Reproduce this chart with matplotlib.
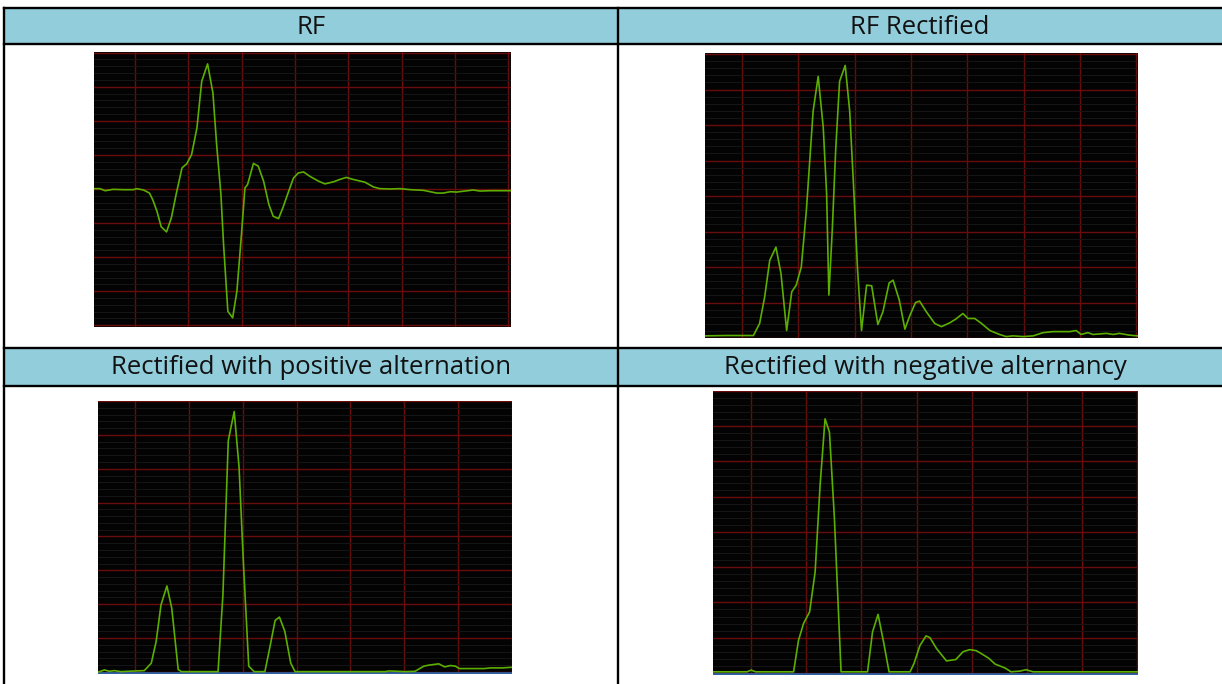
import matplotlib.pyplot as plt
from matplotlib.patches import Rectangle
from matplotlib.lines import Line2D

# ===== data (time / amplitude in screen divisions) =====
titles = ["RF", "RF Rectified",
          "Rectified with positive alternation", "Rectified with negative alternancy"]

rf_t = [-0.77, -0.66, -0.56, -0.41, -0.22, -0.03, 0.03, 0.16, 0.27, 0.33, 0.41, 0.49,
        0.59, 0.68, 0.77, 0.88, 0.97, 1.06, 1.16, 1.25, 1.36, 1.46, 1.53, 1.61, 1.66,
        1.74, 1.83, 1.91, 2.00, 2.06, 2.11, 2.22, 2.31, 2.41, 2.51, 2.59, 2.69, 2.77,
        2.88, 2.97, 3.06, 3.16, 3.28, 3.44, 3.56, 3.72, 3.84, 3.96, 4.09, 4.31, 4.47,
        4.59, 4.78, 4.97, 5.16, 5.41, 5.66, 5.78, 5.91, 6.03, 6.34, 6.47, 6.66, 7.04]
rf_v = [4.01, 4.01, 3.95, 3.99, 3.98, 3.98, 4.01, 3.97, 3.88, 3.69, 3.35, 2.89,
        2.74, 3.15, 3.84, 4.62, 4.74, 5.01, 5.79, 7.16, 7.67, 6.82, 5.30, 3.84, 2.37,
        0.41, 0.22, 1.00, 2.76, 4.03, 4.13, 4.75, 4.67, 4.23, 3.54, 3.20, 3.13, 3.44,
        3.93, 4.32, 4.47, 4.50, 4.37, 4.23, 4.15, 4.21, 4.28, 4.34, 4.28, 4.20, 4.06,
        4.01, 4.00, 4.01, 3.98, 3.96, 3.88, 3.88, 3.92, 3.91, 3.97, 3.94, 3.95, 3.95]

rect_t = [-0.66, -0.28, 0.20, 0.31, 0.40, 0.49, 0.60, 0.69, 0.79, 0.88, 0.96, 1.05,
          1.14, 1.26, 1.35, 1.44, 1.50, 1.54, 1.60, 1.66, 1.73, 1.83, 1.91, 1.98, 2.05,
          2.12, 2.21, 2.30, 2.41, 2.50, 2.61, 2.68, 2.79, 2.89, 2.98, 3.08, 3.15, 3.27,
          3.42, 3.54, 3.69, 3.80, 3.92, 4.01, 4.13, 4.25, 4.40, 4.57, 4.69, 4.81, 4.99,
          5.17, 5.34, 5.52, 5.82, 5.93, 6.02, 6.14, 6.23, 6.47, 6.59, 6.70, 6.88, 7.02]
rect_v = [0.06, 0.07, 0.07, 0.41, 1.16, 2.19, 2.56, 1.81, 0.21, 1.30, 1.49, 2.00,
          3.59, 6.39, 7.37, 5.93, 4.06, 1.21, 3.03, 5.27, 7.23, 7.68, 6.39, 4.24, 1.91,
          0.21, 1.49, 1.47, 0.38, 0.74, 1.55, 1.63, 1.07, 0.25, 0.64, 1.00, 1.04, 0.74,
          0.41, 0.32, 0.43, 0.54, 0.69, 0.55, 0.55, 0.41, 0.21, 0.10, 0.04, 0.06, 0.04,
          0.06, 0.15, 0.18, 0.18, 0.21, 0.10, 0.15, 0.10, 0.13, 0.10, 0.13, 0.08, 0.06]

pos_t = [-0.70, -0.57, -0.48, -0.39, -0.26, -0.14, 0.17, 0.30, 0.39, 0.48, 0.59, 0.68,
         0.80, 0.86, 1.54, 1.63, 1.73, 1.84, 1.93, 2.01, 2.11, 2.21, 2.41, 2.50, 2.60,
         2.68, 2.78, 2.89, 2.97, 4.65, 4.71, 5.02, 5.20, 5.36, 5.45, 5.64, 5.75, 5.86,
         5.95, 6.02, 6.48, 6.60, 6.82, 7.01]
pos_v = [-0.01, 0.06, 0.02, 0.04, 0.01, 0.02, 0.04, 0.26, 0.90, 1.98, 2.54, 1.88,
         0.07, 0.01, 0.01, 2.27, 6.83, 7.69, 6.05, 3.25, 0.17, 0.01, 0.01, 0.71, 1.52,
         1.62, 1.20, 0.26, 0.01, 0.01, 0.03, 0.01, 0.02, 0.17, 0.20, 0.24, 0.15, 0.19,
         0.17, 0.10, 0.10, 0.12, 0.12, 0.14]

neg_t = [-0.69, -0.07, 0.00, 0.08, 0.77, 0.86, 0.95, 1.06, 1.16, 1.25, 1.34, 1.42,
         1.51, 1.63, 2.11, 2.20, 2.30, 2.40, 2.50, 2.88, 2.95, 3.06, 3.17, 3.24, 3.36,
         3.54, 3.71, 3.84, 3.96, 4.08, 4.20, 4.31, 4.42, 4.60, 4.71, 4.87, 4.98, 5.11, 7.01]
neg_v = [0.03, 0.03, 0.08, 0.03, 0.03, 0.93, 1.40, 1.73, 2.86, 5.32, 7.21, 6.83,
         4.38, 0.03, 0.03, 1.16, 1.66, 0.88, 0.03, 0.03, 0.26, 0.78, 1.05, 1.00, 0.69,
         0.34, 0.38, 0.60, 0.66, 0.63, 0.52, 0.41, 0.25, 0.14, 0.03, 0.05, 0.09, 0.03, 0.03]

W, H = 1222, 684
fig = plt.figure(figsize=(W / 100, H / 100), dpi=100)


def fx(px):
    return px / W


def fy(py):
    return 1 - py / H


# ===== table frame =====
header_fill = "#92cddc"
for top, bot in [(8, 44), (348, 386)]:
    fig.add_artist(Rectangle((fx(4), fy(bot)), fx(W) - fx(4), fy(top) - fy(bot),
                             transform=fig.transFigure, facecolor=header_fill,
                             edgecolor="none", zorder=0))
for py in [8, 44, 348, 386]:
    fig.add_artist(Line2D([fx(4), 1], [fy(py), fy(py)], transform=fig.transFigure,
                          color="black", lw=1.7))
for px in [4, 618]:
    fig.add_artist(Line2D([fx(px), fx(px)], [fy(8), 0], transform=fig.transFigure,
                          color="black", lw=1.7))

title_pos = [(311, 27), (920, 27), (311, 368), (925, 368)]
for (cx, cy), t in zip(title_pos, titles):
    fig.text(fx(cx), fy(cy), t, ha="center", va="center",
             fontsize=18.5, family="Open Sans", color="#111111")

# ===== scope panels =====
# (left, top, right, bottom) in pixels, xlim, ylim
panels = [
    ((94, 52, 511, 327), (-0.77, 7.05), (-0.05, 8.02), rf_t, rf_v, False),
    ((705, 53, 1138, 338), (-0.66, 7.03), (0.04, 8.03), rect_t, rect_v, False),
    ((98, 401, 512, 674), (-0.69, 7.00), (-0.06, 7.98), pos_t, pos_v, True),
    ((713, 391, 1138, 675), (-0.69, 7.01), (-0.06, 7.99), neg_t, neg_v, True),
]

for (l, t, r, b), xl, yl, xs, ys, baseline in panels:
    ax = fig.add_axes([fx(l), fy(b), fx(r) - fx(l), fy(t) - fy(b)])
    ax.set_facecolor("#030303")
    ax.set_xlim(*xl)
    ax.set_ylim(*yl)
    ax.set_xticks(range(0, 8))
    ax.set_yticks(range(0, 9))
    ax.set_yticks([k * 0.2 for k in range(0, 41)], minor=True)
    ax.grid(True, which="major", color="#6a0c0c", lw=1.0)
    ax.grid(True, which="minor", axis="y", color="#161616", lw=0.7)
    ax.tick_params(which="both", length=0, labelbottom=False, labelleft=False)
    for s in ax.spines.values():
        s.set_visible(False)
    ax.set_axisbelow(True)
    if baseline:
        ax.axhline(yl[0] + 0.03, color="#2e5f9e", lw=2.0, zorder=2)
    ax.plot(xs, ys, color="#5cae00", lw=1.2, zorder=3)

plt.savefig("out.png", dpi=100)
